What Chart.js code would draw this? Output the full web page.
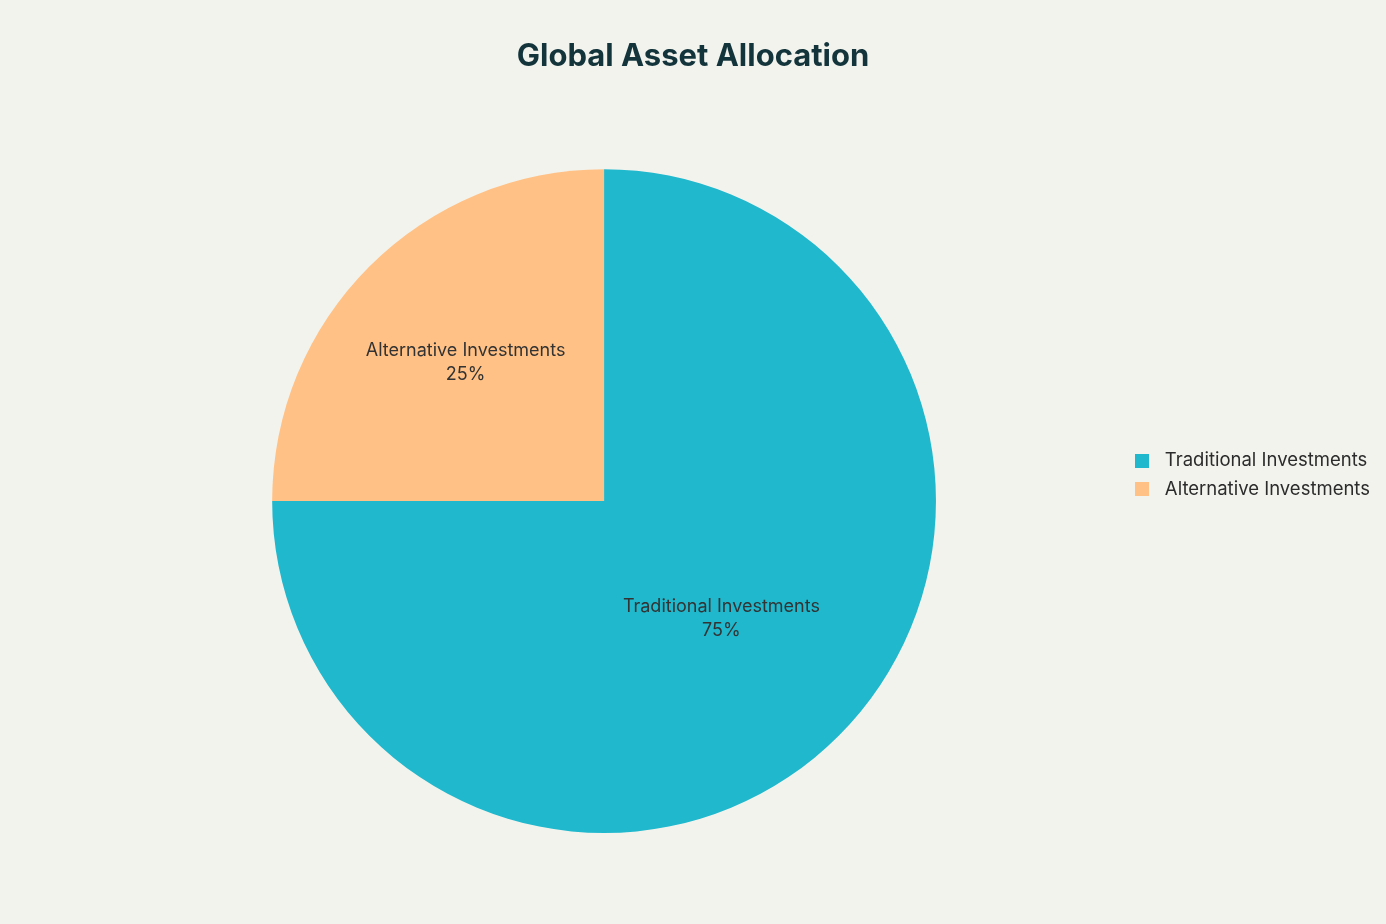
<!DOCTYPE html>
<html>
<head>
<meta charset="utf-8">
<script src="https://cdn.jsdelivr.net/npm/chart.js@4"></script>
<style>
  html, body { margin: 0; padding: 0; background: #F3F3EE; }
  #wrap { width: 1386px; height: 924px; }
</style>
</head>
<body>
<div id="wrap"><canvas id="allocChart"></canvas></div>
<script>
const categories = ['Traditional Investments', 'Alternative Investments'];
const shares = [75, 25];
const sliceColors = ['#1FB8CD', '#FFC185'];

// small square used as legend marker
function swatch(color) {
    const c = document.createElement('canvas');
    c.width = 14;
    c.height = 14;
    const g = c.getContext('2d');
    g.fillStyle = color;
    g.fillRect(0, 0, 14, 14);
    return c;
}

// draws "label / percent" inside each slice
const sliceLabels = {
    id: 'sliceLabels',
    afterLayout(chart) {
        // keep the title centred on the whole canvas, not the padded area
        if (chart.titleBlock) {
            chart.titleBlock.left = 0;
            chart.titleBlock.right = chart.width;
        }
    },
    afterDatasetsDraw(chart) {
        const ctx = chart.ctx;
        const meta = chart.getDatasetMeta(0);
        const fracs = [0.5, 0.59];
        ctx.save();
        ctx.font = '18px Inter, "Noto Sans", sans-serif';
        ctx.fillStyle = '#333333';
        ctx.textAlign = 'center';
        ctx.textBaseline = 'middle';
        meta.data.forEach((arc, i) => {
            const p = arc.getProps(['x', 'y', 'startAngle', 'endAngle', 'outerRadius']);
            const mid = (p.startAngle + p.endAngle) / 2;
            const r = p.outerRadius * fracs[i];
            const x = p.x + Math.cos(mid) * r;
            const y = p.y + Math.sin(mid) * r;
            ctx.fillText(categories[i], x, y - 12);
            ctx.fillText(shares[i] + '%', x, y + 12);
        });
        ctx.restore();
    }
};

const baseLabels = Chart.DoughnutController.overrides.plugins.legend.labels.generateLabels;

const ctx = document.getElementById('allocChart').getContext('2d');
const allocChart = new Chart(ctx, {
    type: 'pie',
    data: {
        labels: categories,
        datasets: [{
            data: shares,
            backgroundColor: sliceColors,
            borderWidth: 0
        }]
    },
    options: {
        responsive: true,
        maintainAspectRatio: false,
        animation: false,
        layout: {
            padding: { left: 90, right: 6, top: 0, bottom: 91 }
        },
        plugins: {
            title: {
                display: true,
                text: 'Global Asset Allocation',
                color: '#13343B',
                font: { family: 'Inter, "Noto Sans", sans-serif', size: 31, weight: 'bold' },
                padding: { top: 38, bottom: 94 }
            },
            legend: {
                position: 'right',
                align: 'start',
                title: {
                    display: true,
                    text: '',
                    padding: { top: 427, bottom: 0 }
                },
                labels: {
                    color: '#2c2c2c',
                    font: { family: 'Inter, "Noto Sans", sans-serif', size: 18.5 },
                    usePointStyle: true,
                    pointStyleWidth: 27.5,
                    boxHeight: 14,
                    padding: 10,
                    generateLabels: (chart) => baseLabels(chart).map((item, i) => ({
                        ...item,
                        pointStyle: swatch(sliceColors[i])
                    }))
                }
            },
            tooltip: { enabled: false }
        }
    },
    plugins: [sliceLabels]
});
</script>
</body>
</html>
